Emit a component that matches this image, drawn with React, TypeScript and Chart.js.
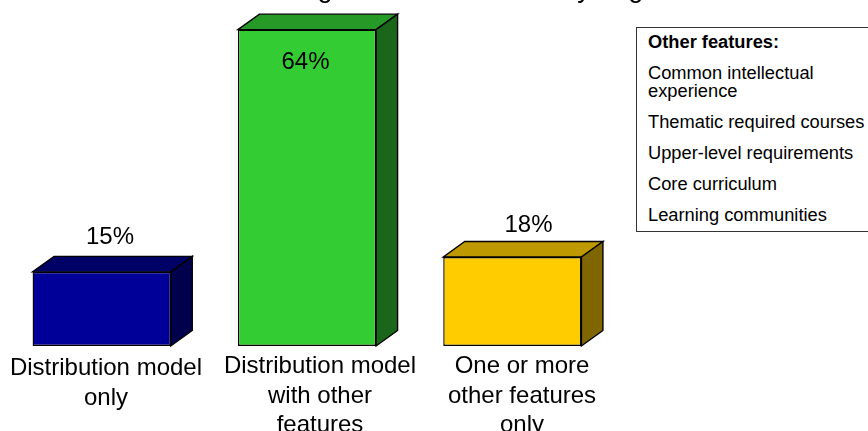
import React, { useEffect, useRef } from "react";
import { Chart, registerables } from "chart.js";

Chart.register(...registerables);

const categories: string[][] = [
  ["Distribution model", "only"],
  ["Distribution model", "with other", "features"],
  ["One or more", "other features", "only"],
];
const shares = [15, 64, 18];
const frontColors = ["#000099", "#33CC33", "#FFCC00"];
const topColors = ["#000066", "#269926", "#BF9900"];
const sideColors = ["#00004D", "#1A661A", "#806600"];

// The reference crops its title; only three descenders show. The wording is a placeholder.
const titleText = "Design model in our survey of general education";
const legendTitle = "Other features:";
const legendItems = [
  "Common intellectual\nexperience",
  "Thematic required courses",
  "Upper-level requirements",
  "Core curriculum",
  "Learning communities",
];

const FONT = '"Liberation Sans", Arial, sans-serif';
const DEPTH_X = 21.5;
const DEPTH_Y = 15.5;
const labelNudgeX = [4.3, 13, 9.7];
const labelNudgeY = [2, 0, 0];
const valueNudgeX = [8.3, -1.5, 16.2];
const valueBaseY = [-34, 33, -32];

const box3d = {
  id: "box3d",
  beforeDatasetsDraw(chart: any) {
    const { ctx } = chart;
    const bars = chart.getDatasetMeta(0).data;
    ctx.save();
    ctx.strokeStyle = "#000";
    ctx.lineWidth = 1.4;
    ctx.lineJoin = "miter";
    bars.forEach((bar: any, i: number) => {
      const l = bar.x - bar.width / 2;
      const r = bar.x + bar.width / 2;
      const t = bar.y;
      const b = bar.base;
      ctx.fillStyle = topColors[i];
      ctx.beginPath();
      ctx.moveTo(l, t);
      ctx.lineTo(l + DEPTH_X, t - DEPTH_Y);
      ctx.lineTo(r + DEPTH_X, t - DEPTH_Y);
      ctx.lineTo(r, t);
      ctx.closePath();
      ctx.fill();
      ctx.stroke();
      ctx.fillStyle = sideColors[i];
      ctx.beginPath();
      ctx.moveTo(r, t);
      ctx.lineTo(r + DEPTH_X, t - DEPTH_Y);
      ctx.lineTo(r + DEPTH_X, b - DEPTH_Y);
      ctx.lineTo(r, b);
      ctx.closePath();
      ctx.fill();
      ctx.stroke();
    });
    ctx.restore();
  },
  beforeDraw(chart: any) {
    const scale = chart.scales.x;
    scale.getLabelItems().forEach((item: any, i: number) => {
      item.options.translation = [
        scale.getPixelForTick(i) + labelNudgeX[i],
        scale.top + scale.options.ticks.padding + labelNudgeY[i],
      ];
    });
  },
  afterDatasetsDraw(chart: any) {
    const { ctx } = chart;
    const bars = chart.getDatasetMeta(0).data;
    ctx.save();
    ctx.fillStyle = "#000";
    ctx.font = `24px ${FONT}`;
    ctx.textAlign = "center";
    ctx.textBaseline = "middle";
    bars.forEach((bar: any, i: number) => {
      ctx.fillText(`${shares[i]}%`, bar.x + valueNudgeX[i], bar.y + valueBaseY[i]);
    });
    ctx.textAlign = "left";
    ctx.textBaseline = "alphabetic";
    ctx.font = `27px ${FONT}`;
    ctx.fillText(titleText, 264.5, -3);
    ctx.restore();
  },
};

export default function App() {
  const ref = useRef<HTMLCanvasElement | null>(null);
  useEffect(() => {
    const chart = new Chart(ref.current as HTMLCanvasElement, {
      type: "bar",
      data: {
        labels: categories as any,
        datasets: [
          {
            data: shares,
            backgroundColor: frontColors,
            borderColor: "#000",
            borderWidth: 1.4,
            borderSkipped: false,
            barPercentage: 0.673,
            categoryPercentage: 1,
          },
        ],
      },
      options: {
        animation: false,
        responsive: false,
        layout: { padding: { left: 0, right: 253, top: 0, bottom: 0 } },
        plugins: { legend: { display: false }, tooltip: { enabled: false }, title: { display: false } },
        scales: {
          x: {
            grid: { display: false },
            border: { display: false },
            afterFit: (s: any) => {
              s.height = 85;
            },
            ticks: {
              autoSkip: false,
              maxRotation: 0,
              padding: 6,
              color: "#000",
              font: { family: FONT, size: 24, lineHeight: 1.23 },
            },
          },
          y: { display: false, min: 0, max: 70 },
        },
      },
      plugins: [box3d],
    } as any);
    return () => chart.destroy();
  }, []);

  return (
    <div style={{ position: "fixed", left: 0, top: 0, width: 868, height: 431, overflow: "hidden", background: "#fff" }}>
      <canvas ref={ref} width={869} height={431} style={{ display: "block", marginLeft: -1 }} />
      <div
        style={{
          position: "absolute",
          left: 636,
          top: 27,
          width: 260,
          height: 205,
          boxSizing: "border-box",
          border: "1px solid #333",
          background: "#fff",
          padding: "5px 0 0 11px",
          fontFamily: FONT,
          fontSize: 18.3,
          lineHeight: "18px",
          color: "#000",
        }}
      >
        <div style={{ fontWeight: 700, marginBottom: 13 }}>{legendTitle}</div>
        {legendItems.map((t) => (
          <div key={t} style={{ whiteSpace: "pre-line", marginBottom: 13 }}>
            {t}
          </div>
        ))}
      </div>
    </div>
  );
}
